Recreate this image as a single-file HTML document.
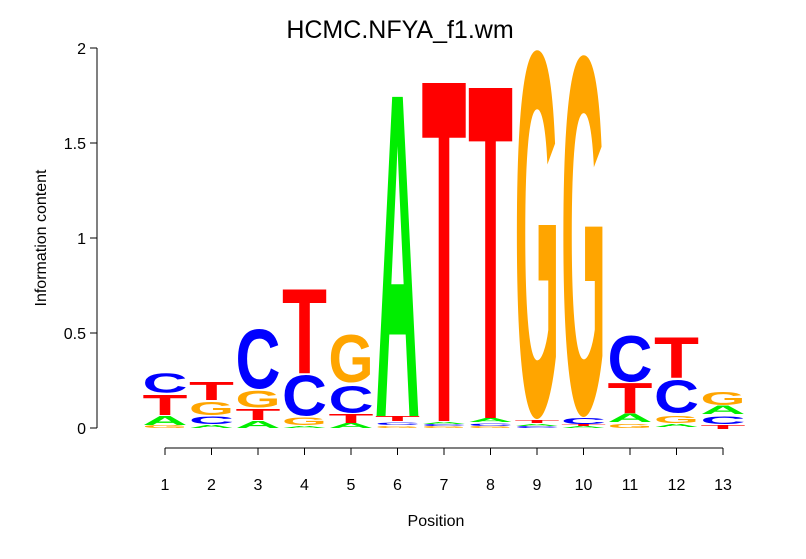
<!DOCTYPE html>
<html><head><meta charset="utf-8"><style>
html,body{margin:0;padding:0;background:#fff}
svg{display:block}
.l{font-family:"Liberation Sans",sans-serif;font-weight:bold;font-size:100px}
.A{fill:#00ee00}.C{fill:#0000ff}.G{fill:#ffa500}.T{fill:#ff0000}
.ax{font-family:"Liberation Sans",sans-serif;font-size:16px;fill:#000}
</style></head><body>
<svg width="806" height="559" viewBox="0 0 806 559" xmlns="http://www.w3.org/2000/svg">
<rect width="806" height="559" fill="#fff"/>
<text x="400" y="38" text-anchor="middle" font-family="Liberation Sans, sans-serif" font-size="25">HCMC.NFYA_f1.wm</text>
<g stroke="#000" stroke-width="1" fill="none">
<path d="M97,428V48M97,428H90M97,333H90M97,238H90M97,143H90M97,48H90"/>
<path d="M165,448H723"/>
<path d="M165,448v7M211.5,448v7M258,448v7M304.5,448v7M351,448v7M397.5,448v7M444,448v7M490.5,448v7M537,448v7M583.5,448v7M630,448v7M676.5,448v7M723,448v7"/>
</g>
<g class="ax" text-anchor="end">
<text x="86" y="434">0</text>
<text x="86" y="339">0.5</text>
<text x="86" y="244">1</text>
<text x="86" y="149">1.5</text>
<text x="86" y="54">2</text>
</g>
<g class="ax" text-anchor="middle">
<text transform="translate(46,238) rotate(-90)">Information content</text>
<text x="165" y="490">1</text><text x="211.5" y="490">2</text><text x="258" y="490">3</text>
<text x="304.5" y="490">4</text><text x="351" y="490">5</text><text x="397.5" y="490">6</text>
<text x="444" y="490">7</text><text x="490.5" y="490">8</text><text x="537" y="490">9</text>
<text x="583.5" y="490">10</text><text x="630" y="490">11</text><text x="676.5" y="490">12</text>
<text x="723" y="490">13</text>
<text x="436" y="526">Position</text>
</g>
<g class="l">
<!-- col1 -->
<text class="G" textLength="45" lengthAdjust="spacingAndGlyphs" transform="translate(142.5,427.95) scale(1,0.042)">G</text>
<text class="A" textLength="45" lengthAdjust="spacingAndGlyphs" transform="translate(142.5,425) scale(1,0.130)">A</text>
<text class="T" textLength="45" lengthAdjust="spacingAndGlyphs" transform="translate(142.5,415) scale(1,0.290)">T</text>
<text class="C" textLength="45" lengthAdjust="spacingAndGlyphs" transform="translate(142.5,392.7) scale(1,0.282)">C</text>
<!-- col2 -->
<text class="A" textLength="45" lengthAdjust="spacingAndGlyphs" transform="translate(189,428) scale(1,0.043)">A</text>
<text class="C" textLength="45" lengthAdjust="spacingAndGlyphs" transform="translate(189,423.9) scale(1,0.113)">C</text>
<text class="G" textLength="45" lengthAdjust="spacingAndGlyphs" transform="translate(189,414.8) scale(1,0.183)">G</text>
<text class="T" textLength="45" lengthAdjust="spacingAndGlyphs" transform="translate(189,400) scale(1,0.261)">T</text>
<!-- col3 -->
<text class="A" textLength="45" lengthAdjust="spacingAndGlyphs" transform="translate(235.5,428) scale(1,0.101)">A</text>
<text class="T" textLength="45" lengthAdjust="spacingAndGlyphs" transform="translate(235.5,420) scale(1,0.159)">T</text>
<text class="G" textLength="45" lengthAdjust="spacingAndGlyphs" transform="translate(235.5,407.7) scale(1,0.239)">G</text>
<text class="C" textLength="45" lengthAdjust="spacingAndGlyphs" transform="translate(235.5,388) scale(1,0.845)">C</text>
<!-- col4 -->
<text class="A" textLength="45" lengthAdjust="spacingAndGlyphs" transform="translate(282,428) scale(1,0.029)">A</text>
<text class="G" textLength="45" lengthAdjust="spacingAndGlyphs" transform="translate(282,424.9) scale(1,0.113)">G</text>
<text class="C" textLength="45" lengthAdjust="spacingAndGlyphs" transform="translate(282,415.3) scale(1,0.577)">C</text>
<text class="T" textLength="45" lengthAdjust="spacingAndGlyphs" transform="translate(282,373) scale(1,1.217)">T</text>
<!-- col5 -->
<text class="A" textLength="45" lengthAdjust="spacingAndGlyphs" transform="translate(328.5,428) scale(1,0.072)">A</text>
<text class="T" textLength="45" lengthAdjust="spacingAndGlyphs" transform="translate(328.5,423) scale(1,0.130)">T</text>
<text class="C" textLength="45" lengthAdjust="spacingAndGlyphs" transform="translate(328.5,412.6) scale(1,0.381)">C</text>
<text class="G" textLength="45" lengthAdjust="spacingAndGlyphs" transform="translate(328.5,382.2) scale(1,0.676)">G</text>
<!-- col6 -->
<text class="G" textLength="45" lengthAdjust="spacingAndGlyphs" transform="translate(375,428) scale(1,0.026)">G</text>
<text class="C" textLength="45" lengthAdjust="spacingAndGlyphs" transform="translate(375,425) scale(1,0.040)">C</text>
<text class="T" textLength="45" lengthAdjust="spacingAndGlyphs" transform="translate(375,421) scale(1,0.072)">T</text>
<text class="A" textLength="45" lengthAdjust="spacingAndGlyphs" transform="translate(375,416) scale(1,4.638)">A</text>
<!-- col7 -->
<text class="G" textLength="45" lengthAdjust="spacingAndGlyphs" transform="translate(421.5,428) scale(1,0.026)">G</text>
<text class="C" textLength="45" lengthAdjust="spacingAndGlyphs" transform="translate(421.5,426) scale(1,0.026)">C</text>
<text class="A" textLength="45" lengthAdjust="spacingAndGlyphs" transform="translate(421.5,424) scale(1,0.029)">A</text>
<text class="T" textLength="45" lengthAdjust="spacingAndGlyphs" transform="translate(421.5,421) scale(1,4.913)">T</text>
<!-- col8 -->
<text class="G" textLength="45" lengthAdjust="spacingAndGlyphs" transform="translate(468,428) scale(1,0.026)">G</text>
<text class="C" textLength="45" lengthAdjust="spacingAndGlyphs" transform="translate(468,426) scale(1,0.040)">C</text>
<text class="A" textLength="45" lengthAdjust="spacingAndGlyphs" transform="translate(468,422) scale(1,0.058)">A</text>
<text class="T" textLength="45" lengthAdjust="spacingAndGlyphs" transform="translate(468,418) scale(1,4.797)">T</text>
<!-- col9 -->
<text class="C" textLength="45" lengthAdjust="spacingAndGlyphs" transform="translate(514.5,428) scale(1,0.026)">C</text>
<text class="A" textLength="45" lengthAdjust="spacingAndGlyphs" transform="translate(514.5,426) scale(1,0.029)">A</text>
<text class="T" textLength="45" lengthAdjust="spacingAndGlyphs" transform="translate(514.5,423) scale(1,0.043)">T</text>
<text class="G" textLength="45" lengthAdjust="spacingAndGlyphs" transform="translate(514.5,414) scale(1,5.21)">G</text>
<!-- col10 -->
<text class="A" textLength="45" lengthAdjust="spacingAndGlyphs" transform="translate(561,428) scale(1,0.029)">A</text>
<text class="T" textLength="45" lengthAdjust="spacingAndGlyphs" transform="translate(561,426) scale(1,0.029)">T</text>
<text class="C" textLength="45" lengthAdjust="spacingAndGlyphs" transform="translate(561,423.9) scale(1,0.084)">C</text>
<text class="G" textLength="45" lengthAdjust="spacingAndGlyphs" transform="translate(561,412) scale(1,5.11)">G</text>
<!-- col11 -->
<text class="G" textLength="45" lengthAdjust="spacingAndGlyphs" transform="translate(607.5,428) scale(1,0.056)">G</text>
<text class="A" textLength="45" lengthAdjust="spacingAndGlyphs" transform="translate(607.5,422) scale(1,0.116)">A</text>
<text class="T" textLength="45" lengthAdjust="spacingAndGlyphs" transform="translate(607.5,413) scale(1,0.435)">T</text>
<text class="C" textLength="45" lengthAdjust="spacingAndGlyphs" transform="translate(607.5,381.3) scale(1,0.662)">C</text>
<!-- col12 -->
<text class="A" textLength="45" lengthAdjust="spacingAndGlyphs" transform="translate(654,427) scale(1,0.043)">A</text>
<text class="G" textLength="45" lengthAdjust="spacingAndGlyphs" transform="translate(654,422.9) scale(1,0.099)">G</text>
<text class="C" textLength="45" lengthAdjust="spacingAndGlyphs" transform="translate(654,412.5) scale(1,0.465)">C</text>
<text class="T" textLength="45" lengthAdjust="spacingAndGlyphs" transform="translate(654,378) scale(1,0.580)">T</text>
<!-- col13 -->
<text class="T" textLength="45" lengthAdjust="spacingAndGlyphs" transform="translate(700.5,429) scale(1,0.058)">T</text>
<text class="C" textLength="45" lengthAdjust="spacingAndGlyphs" transform="translate(700.5,423.9) scale(1,0.113)">C</text>
<text class="A" textLength="45" lengthAdjust="spacingAndGlyphs" transform="translate(700.5,414) scale(1,0.116)">A</text>
<text class="G" textLength="45" lengthAdjust="spacingAndGlyphs" transform="translate(700.5,404.8) scale(1,0.183)">G</text>
</g>
</svg>
</body></html>
